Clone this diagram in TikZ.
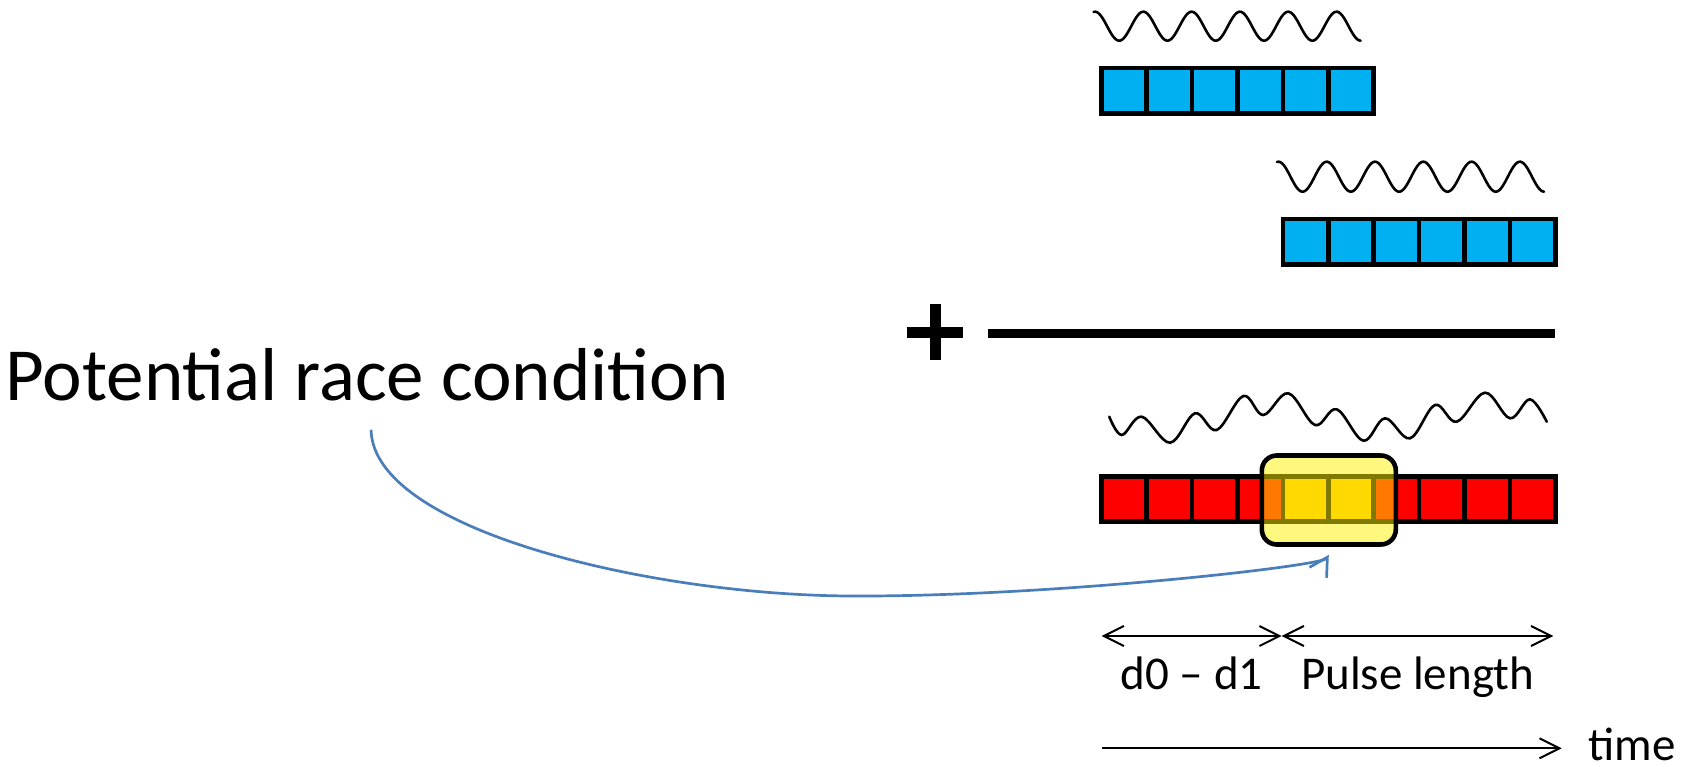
\documentclass[tikz,border=0pt]{standalone}
\usepackage{fontspec}
\setmainfont{Carlito}
\usepackage{xcolor}
\usepackage{tikz}
\usetikzlibrary{arrows.meta}

\definecolor{cellblue}{HTML}{00B0F0}
\definecolor{cellred}{HTML}{FF0000}
\definecolor{cellgold}{HTML}{FFC000}
\definecolor{linkblue}{HTML}{4A7EBB}

\begin{document}
\begin{tikzpicture}[x=1pt, y=-1pt,
  cell/.style={draw=black, line width=4.6pt},
  wave/.style={line width=2.6pt, line cap=round},
  dim/.style={line width=2pt, {Straight Barb[length=20pt,width=20pt]}-{Straight Barb[length=20pt,width=20pt]}},
  lbl/.style={inner sep=0pt, font=\fontsize{47}{56}\selectfont},
  hlbox/.style={draw=black, line width=4.6pt, fill=yellow, fill opacity=0.5, draw opacity=1,
    rounded corners=15pt, minimum width=134pt, minimum height=89pt, inner sep=0pt},
  link/.style={draw=linkblue, line width=2.7pt, -{Straight Barb[length=18pt,width=20pt]}}]
\useasboundingbox (0,0) rectangle (1696,767);

%%%%% First pulse %%%%%
\draw[wave] plot[domain=-0.03:5.5, samples=160] ({1095+48.3*\x}, {26.2-14.5*cos(360*\x)});
\foreach \i in {0,...,5}{
\draw[cell, fill=cellblue] ({1101.3+45.4*\i},68) rectangle ++(45.4,45.4);
}

%%%%% Second pulse, delayed %%%%%
\draw[wave] plot[domain=-0.03:5.5, samples=160] ({1278.4+48.3*\x}, {176.7-15*cos(360*\x)});
\foreach \i in {4,...,9}{
\draw[cell, fill=cellblue] ({1101.3+45.4*\i},219) rectangle ++(45.4,45.4);
}

%%%%% Sum %%%%%
\draw[line width=11pt] (935.5,304.3) -- (935.5,360);
\draw[line width=11pt] (906.7,332.8) -- (963.3,332.8);
\draw[line width=9pt] (988.3,333.8) -- (1555,333.8);

\draw[wave] plot[smooth, tension=0.6] coordinates {
  (1109.3,416.7) (1121.7,435) (1141.7,416.7) (1170,442.7) (1195,413.3)
  (1216.7,430) (1243.3,396) (1263.3,415) (1288.3,393.3) (1315,425)
  (1336.7,409.3) (1363.3,440.7) (1385,418.3) (1410,438.3) (1435,405)
  (1456.7,421.7) (1485,392.7) (1510,418.3) (1530,399.3) (1546.7,421.7)};

\foreach \i in {0,...,9}{
\draw[cell, fill=cellred] ({1101.3+45.4*\i},476.3) rectangle ++(45.4,45.4);
}
\foreach \i in {4,5}{
\draw[cell, fill=cellgold] ({1101.3+45.4*\i},476.3) rectangle ++(45.4,45.4);
}

% overlap window
\node[hlbox] (hl) at (1328.8,500) {};

%%%%% Label and pointer %%%%%
\node[anchor=base west, inner sep=0pt, font=\fontsize{75}{90}\selectfont] (race) at (5.4,400) {Potential race condition};
\draw[link] ([xshift=4pt,yshift=-29pt]race.south) .. controls (373,530) and (650,595) .. (850,596)
  .. controls (1050,597) and (1322,566) .. ([yshift=-8pt]hl.south);

%%%%% Durations %%%%%
\coordinate (d0) at (1101.7,636);
\coordinate (d1) at (1281.7,636);
\coordinate (d2) at (1553.3,636);
\draw[dim] (d0) -- node[lbl, midway, anchor=base, yshift=-53pt] {d0 – d1} (d1);
\draw[dim] (d1) -- node[lbl, midway, anchor=base, yshift=-53pt] {Pulse length} (d2);

\coordinate (t0) at (1101.7,748.3);
\coordinate (t1) at (1561.7,748.3);
\draw[line width=2pt, -{Straight Barb[length=20pt,width=20pt]}] (t0) -- (t1)
  node[lbl, anchor=base west, xshift=26pt, yshift=-12pt] {time};
\end{tikzpicture}
\end{document}
